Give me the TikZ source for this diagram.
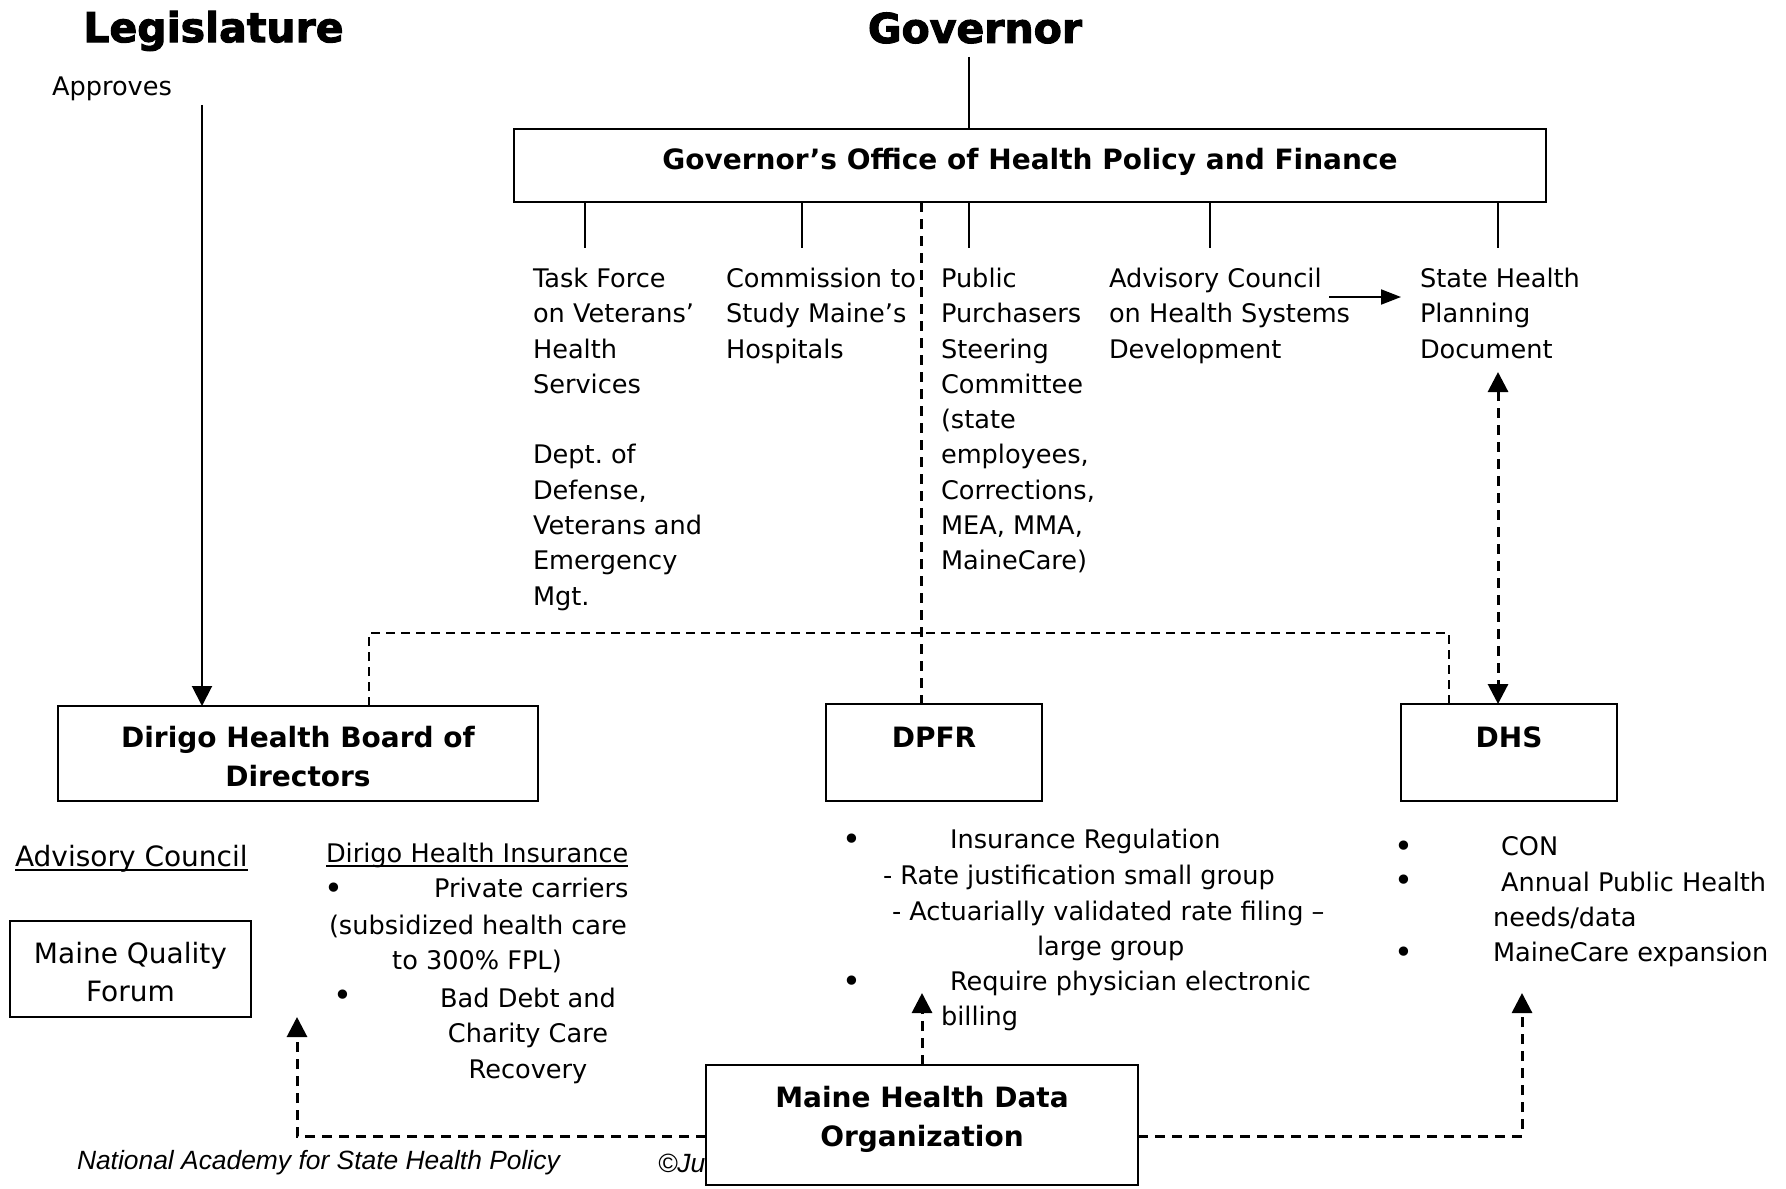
\documentclass[tikz,border=0pt]{standalone}
\usepackage{fontspec}
\setmainfont{DejaVu Sans}
\newfontfamily\arialfont{Liberation Sans}
\newfontfamily\titlefont[FakeBold=2.5]{DejaVu Sans Bold}
\usetikzlibrary{arrows.meta}
\frenchspacing
\newcommand\myuline[1]{\setbox0\hbox{#1}\rlap{\rule[-2pt]{\wd0}{0.9pt}}\box0}
\begin{document}
\begin{tikzpicture}[x=0.5pt,y=-0.5pt]
\tikzset{
 every node/.style={inner sep=0pt, outer sep=0pt},
 ln/.style={line width=1pt},
 dsh/.style={line width=1.5pt, dash pattern=on 5pt off 3.5pt},
 dshthin/.style={line width=1.1pt, dash pattern=on 4.5pt off 3pt},
 tip/.style={-{Triangle[length=10pt,width=10pt]}},
 tipn/.style={-{Triangle[length=10pt,width=7.5pt]}},
 tips/.style={{Triangle[length=10pt,width=10pt]}-{Triangle[length=10pt,width=10pt]}},
 box/.style={draw, line width=1pt, fill=white},
 txt/.style={font=\fontsize{12.8}{17.65}\selectfont, align=left},
 one/.style={font=\fontsize{12.8}{17.65}\selectfont, anchor=west, text height=9.6pt, text depth=3.2pt, yshift=-1.7pt},
 big/.style={font=\fontsize{14}{19}\selectfont},
 bld/.style={font=\bfseries\fontsize{14}{19.5}\selectfont, align=center},
 ttl/.style={font=\titlefont\fontsize{20.5}{24}\selectfont},
 bul/.style={font=\fontsize{16}{18}\selectfont},
 foot/.style={font=\arialfont\itshape\fontsize{13.2}{16}\selectfont, anchor=west},
}
\useasboundingbox (0,0) rectangle (1786,1188);

% titles
\node[ttl] (leg) at (213.5,31) {Legislature};
\node[ttl] (gov) at (975,28) {Governor};
\node[one] (appr) at (52,86) {Approves};

% footer (partly hidden by the data organization box)
\node[foot] (nash) at (77,1163) {National Academy for State Health Policy};
\node[foot] (copy) at (658,1163) {©Ju};

% main boxes
\node[box, minimum width=516pt, minimum height=36.5pt] (gohpf) at (1030,165.5) {};
\node[bld] (gohpfL) at (1030,161.5) {Governor’s Office of Health Policy and Finance};
\node[box, minimum width=240pt, minimum height=47.5pt] (dirigo) at (298,753.5) {};
\node[bld] (dirigoL) at (298,757) {Dirigo Health Board of\\Directors};
\node[box, minimum width=108pt, minimum height=48.5pt] (dpfr) at (934,752.5) {};
\node[bld] (dpfrL) at (934,737) {DPFR};
\node[box, minimum width=108pt, minimum height=48.5pt] (dhs) at (1509,752.5) {};
\node[bld] (dhsL) at (1509,737) {DHS};
\node[box, minimum width=120.5pt, minimum height=48pt] (mqf) at (130.5,969) {};
\node[big, align=center] (mqfL) at (130.5,972.5) {Maine Quality\\Forum};

% second-row texts
\node[txt, anchor=north west] (tf) at (533,268) {Task Force\\on Veterans’\\Health\\Services\\[17.65pt]Dept. of\\Defense,\\Veterans and\\Emergency\\Mgt.};
\node[txt, anchor=north west] (com) at (726,268) {Commission to\\Study Maine’s\\Hospitals};
\node[txt, anchor=north west] (ppsc) at (941,268) {Public\\Purchasers\\Steering\\Committee\\(state\\employees,\\Corrections,\\MEA, MMA,\\MaineCare)};
\node[txt, anchor=north west] (acd) at (1109,268) {Advisory Council\\on Health Systems\\Development};
\node[txt, anchor=north west] (shpd) at (1420,268) {State Health\\Planning\\Document};

% stubs under the governor's office
\coordinate (s1) at (585,248);
\coordinate (s2) at (802,248);
\coordinate (s3) at (969,248);
\coordinate (s4) at (1210,248);
\coordinate (s5) at (1498,248);
\foreach \s in {s1,s2,s3,s4,s5} \draw[ln] (gohpf.south -| \s) -- (\s);

% governor to office
\coordinate (g0) at (969,57);
\draw[ln] (g0) -- (g0 |- gohpf.north);

% legislature approves
\coordinate (a0) at (202,105);
\draw[ln, tip] (a0) -- (a0 |- dirigo.north);

% advisory council -> state health planning document
\coordinate (ac1) at (1329,297);
\coordinate (ac2) at (1401,297);
\draw[ln, tipn] (ac1) -- (ac2);

% state health planning document <-> DHS
\coordinate (dd) at (1498,372);
\draw[dsh, tips] (dd) -- (dd |- dhs.north);

% office -> DPFR dashed
\coordinate (dp0) at (921,202);
\draw[dsh] (dp0 |- gohpf.south) -- (dp0 |- dpfr.north);

% dashed bracket to Dirigo and DHS
\coordinate (h1) at (369,633);
\coordinate (h2) at (1449,633);
\draw[dshthin] (h1 |- dirigo.north) -- (h1) -- (h2) -- (h2 |- dhs.north);

% Dirigo lists
\node[big, anchor=west] (advc) at (15,859) {\myuline{Advisory Council}};
\node[one] (dhi) at (326,853) {\myuline{Dirigo Health Insurance}};
\node[bul] (b1) at (334,891) {•};
\node[one] (dh1) at (434,888) {Private carriers};
\node[one] (dh2) at (329,925) {(subsidized health care};
\node[one, anchor=center] (dh3) at (477,960) {to 300\% FPL)};
\node[bul] (b2) at (343,998) {•};
\node[txt, align=center, anchor=north] (dh4) at (528,988) {Bad Debt and\\Charity Care\\Recovery};

% DPFR list
\node[bul] (b3) at (852,842) {•};
\node[one] (dp1) at (950,839) {Insurance Regulation};
\node[one] (dp2) at (883,875) {- Rate justification small group};
\node[one] (dp3) at (892,911) {- Actuarially validated rate filing –};
\node[one] (dp4) at (1037,946) {large group};
\node[bul] (b4) at (852,984) {•};
\node[one] (dp5) at (950,981) {Require physician electronic};
\node[one] (dp6) at (941,1016) {billing};

% DHS list
\node[bul] (b5) at (1404,849) {•};
\node[one] (ds1) at (1501,846) {CON};
\node[bul] (b6) at (1404,883) {•};
\node[one] (ds2) at (1501,882) {Annual Public Health};
\node[one] (ds3) at (1493,917) {needs/data};
\node[bul] (b7) at (1404,955) {•};
\node[one] (ds4) at (1493,952) {MaineCare expansion};

% Maine Health Data Organization
\node[box, minimum width=216pt, minimum height=60pt] (mhdo) at (922,1125) {};
\node[bld] (mhdoL) at (922,1119.5) {Maine Health Data\\Organization};

\coordinate (m1) at (297,1017);
\coordinate (mu) at (922,993);
\coordinate (mr) at (1522,993);
\draw[dsh, tip] ([yshift=-5.5pt]mhdo.west) -| (m1);
\draw[dsh, tip] (mhdo.north) -- (mu);
\draw[dsh, tip] ([yshift=-5.5pt]mhdo.east) -| (mr);
\end{tikzpicture}
\end{document}
